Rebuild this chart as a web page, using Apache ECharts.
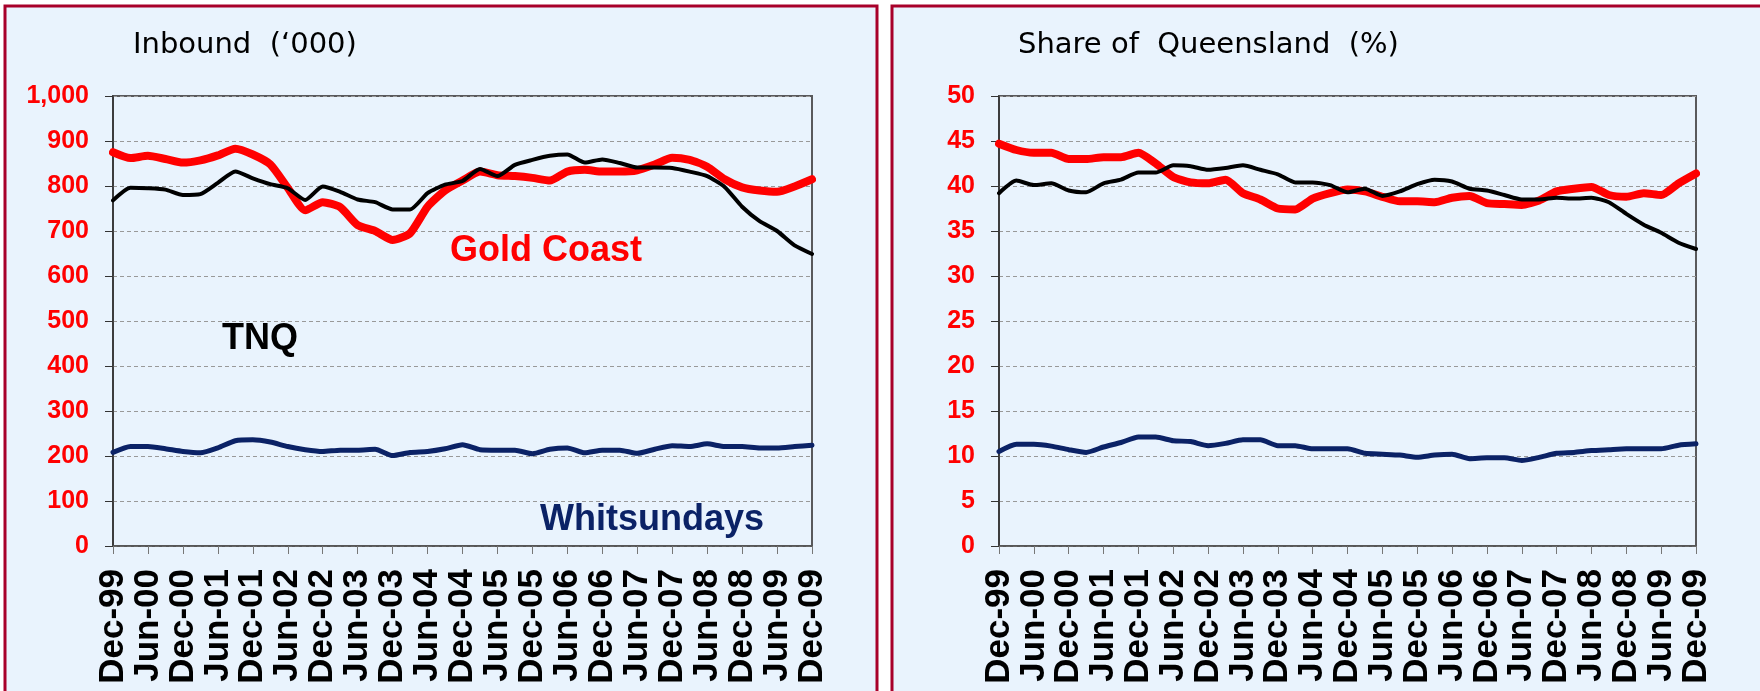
<!DOCTYPE html>
<html lang="en">
<head>
<meta charset="UTF-8">
<title>Inbound and share of Queensland</title>
<script src="https://cdn.jsdelivr.net/npm/echarts@6/dist/echarts.min.js"></script>
<style>
  html, body { margin: 0; padding: 0; background: #fff; }
  #chart { width: 1760px; height: 691px; }
</style>
</head>
<body>
<div id="chart"></div>
<script>
// quarters, Dec-99 .. Dec-09 (labels shown every second one)
var quarters = ['Dec-99','Mar-00','Jun-00','Sep-00','Dec-00','Mar-01','Jun-01','Sep-01','Dec-01','Mar-02',
  'Jun-02','Sep-02','Dec-02','Mar-03','Jun-03','Sep-03','Dec-03','Mar-04','Jun-04','Sep-04',
  'Dec-04','Mar-05','Jun-05','Sep-05','Dec-05','Mar-06','Jun-06','Sep-06','Dec-06','Mar-07',
  'Jun-07','Sep-07','Dec-07','Mar-08','Jun-08','Sep-08','Dec-08','Mar-09','Jun-09','Sep-09','Dec-09'];

// Inbound ('000)
var goldCoastInbound = [875,862,867,860,852,857,868,883,870,848,796,746,764,753,713,700,680,695,754,790,
  812,832,824,822,818,812,832,836,832,832,835,848,863,858,843,815,797,790,787,799,815];
var tnqInbound = [768,796,795,792,780,782,807,832,817,804,795,769,799,787,770,764,748,748,784,803,
  811,838,822,847,858,867,870,852,859,851,841,841,840,832,822,798,754,722,700,668,649];
var whitsundaysInbound = [208,221,221,216,210,207,218,234,236,231,221,214,210,213,213,215,201,208,210,216,
  225,214,213,213,205,215,218,207,213,213,206,215,223,221,227,221,221,218,218,221,224];

// Share of Queensland (%)
var goldCoastShare = [44.7,44.0,43.7,43.7,43.0,43.0,43.2,43.2,43.7,42.5,41.0,40.4,40.3,40.7,39.2,38.5,37.5,37.4,38.6,39.2,
  39.6,39.4,38.8,38.3,38.3,38.2,38.7,38.9,38.1,38.0,37.9,38.4,39.4,39.7,39.9,39.0,38.8,39.2,39.0,40.3,41.4];
var tnqShare = [39.2,40.6,40.1,40.3,39.5,39.3,40.3,40.7,41.5,41.5,42.3,42.2,41.8,42.0,42.3,41.8,41.3,40.4,40.4,40.1,
  39.3,39.7,38.9,39.4,40.2,40.7,40.5,39.7,39.5,39.0,38.5,38.5,38.7,38.6,38.7,38.2,36.9,35.7,34.8,33.7,33.0];
var whitsundaysShare = [10.5,11.3,11.3,11.1,10.7,10.4,11.0,11.5,12.1,12.1,11.7,11.6,11.15,11.4,11.8,11.8,11.15,11.15,10.8,10.8,
  10.8,10.3,10.2,10.1,9.85,10.1,10.2,9.7,9.8,9.8,9.5,9.85,10.3,10.4,10.6,10.7,10.8,10.8,10.8,11.2,11.35];

var RED = '#ff0000', NAVY = '#0b2266', PANEL = '#e9f3fd', FRAME = '#59595c';
var tickFont = 'Liberation Sans';

function xAxisFor(gridIndex) {
  return {
    type: 'category', gridIndex: gridIndex, data: quarters, boundaryGap: false,
    axisLine: { lineStyle: { color: '#555', width: 1.5 } },
    axisTick: { interval: 1, length: 8, lineStyle: { color: '#777' } },
    axisLabel: {
      interval: 1, rotate: 90, margin: 23, color: '#000',
      fontFamily: tickFont, fontWeight: 'bold', fontSize: 35
    },
    splitLine: { show: false }
  };
}

function yAxisFor(gridIndex, max, step, fmt) {
  return {
    type: 'value', gridIndex: gridIndex, min: 0, max: max, interval: step,
    axisLine: { show: true, lineStyle: { color: '#333', width: 1.5 } },
    axisTick: { show: true, length: 8, lineStyle: { color: '#333' } },
    axisLabel: {
      margin: 24, color: RED, fontFamily: tickFont, fontWeight: 'bold', fontSize: 25,
      formatter: fmt
    },
    splitLine: { lineStyle: { color: '#999', type: [4, 3], width: 1 } }
  };
}

function line(name, data, idx, color, w) {
  return {
    name: name, type: 'line', xAxisIndex: idx, yAxisIndex: idx, data: data,
    showSymbol: false, symbol: 'none', smooth: 0.2,
    lineStyle: { color: color, width: w, cap: 'round', join: 'round' },
    silent: true
  };
}

var chart = echarts.init(document.getElementById('chart'), null, { renderer: 'canvas' });

chart.setOption({
  backgroundColor: PANEL,
  animation: false,
  grid: [
    { left: 113, top: 96, width: 699, height: 450, show: true, borderColor: FRAME, borderWidth: 2, backgroundColor: 'transparent' },
    { left: 999, top: 96, width: 697, height: 450, show: true, borderColor: FRAME, borderWidth: 2, backgroundColor: 'transparent' }
  ],
  xAxis: [xAxisFor(0), xAxisFor(1)],
  yAxis: [
    yAxisFor(0, 1000, 100, function (v) { return v >= 1000 ? '1,000' : String(v); }),
    yAxisFor(1, 50, 5, null)
  ],
  series: [
    line('Gold Coast', goldCoastInbound, 0, RED, 8),
    line('Whitsundays', whitsundaysInbound, 0, NAVY, 5),
    line('TNQ', tnqInbound, 0, '#000', 4),
    line('Gold Coast', goldCoastShare, 1, RED, 8),
    line('Whitsundays', whitsundaysShare, 1, NAVY, 5),
    line('TNQ', tnqShare, 1, '#000', 4)
  ],
  graphic: [
    // white gaps round the two panels
    { type: 'rect', shape: { x: 0, y: 0, width: 1760, height: 5 }, style: { fill: '#fff' }, silent: true },
    { type: 'rect', shape: { x: 0, y: 0, width: 4, height: 691 }, style: { fill: '#fff' }, silent: true },
    { type: 'rect', shape: { x: 878, y: 0, width: 13, height: 691 }, style: { fill: '#fff' }, silent: true },
    { type: 'rect', shape: { x: 5, y: 6, width: 872, height: 720 }, style: { fill: 'none', stroke: '#a8002a', lineWidth: 3 }, silent: true },
    { type: 'rect', shape: { x: 892, y: 6, width: 900, height: 720 }, style: { fill: 'none', stroke: '#a8002a', lineWidth: 3 }, silent: true },
    // titles
    { type: 'text', x: 133, y: 45, style: { text: 'Inbound  (\u2018000)', font: '29px "DejaVu Sans"', fill: '#000', textVerticalAlign: 'middle' }, silent: true },
    { type: 'text', x: 1018, y: 45, style: { text: 'Share of  Queensland  (%)', font: '29px "DejaVu Sans"', fill: '#000', textVerticalAlign: 'middle' }, silent: true },
    // series names written on the left chart
    { type: 'text', x: 546, y: 251, style: { text: 'Gold Coast', font: 'bold 36px "Liberation Sans"', fill: RED, textAlign: 'center', textVerticalAlign: 'middle' }, silent: true },
    { type: 'text', x: 260, y: 339, style: { text: 'TNQ', font: 'bold 36px "Liberation Sans"', fill: '#000', textAlign: 'center', textVerticalAlign: 'middle' }, silent: true },
    { type: 'text', x: 652, y: 520, style: { text: 'Whitsundays', font: 'bold 36px "Liberation Sans"', fill: NAVY, textAlign: 'center', textVerticalAlign: 'middle' }, silent: true }
  ]
});
</script>
</body>
</html>
